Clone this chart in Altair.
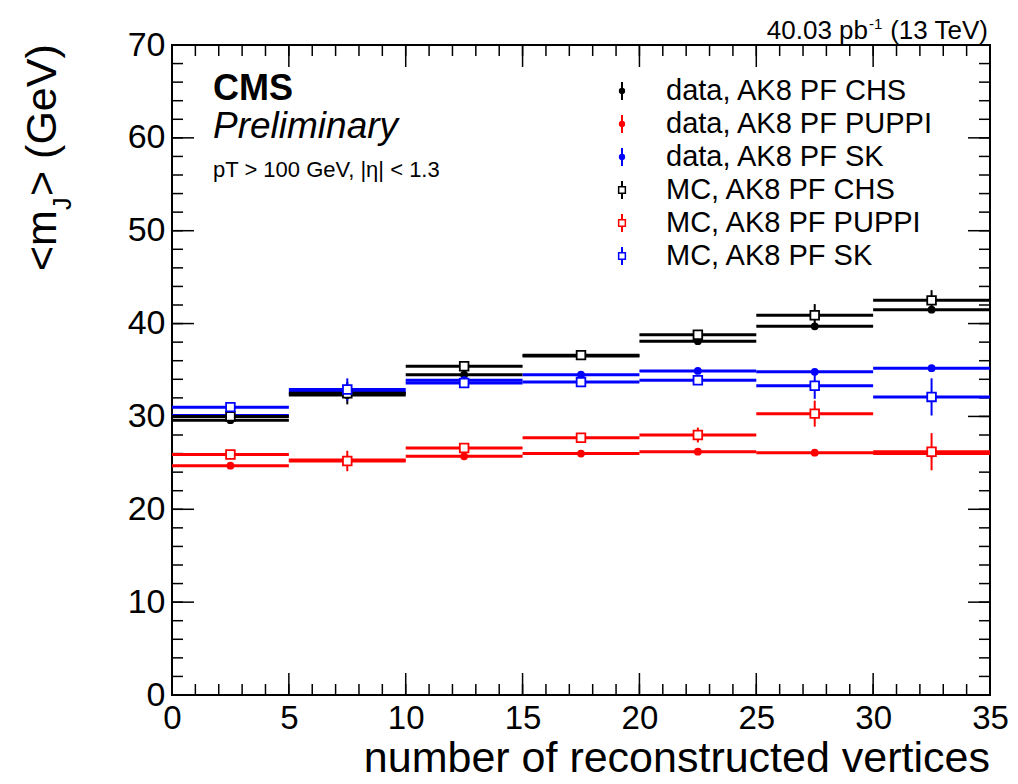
import altair as alt
import pandas as pd
import numpy as np

FONT = "Liberation Sans"

# ---- data -------------------------------------------------------------
bin_low = [0, 5, 10, 15, 20, 25, 30]
bin_high = [5, 10, 15, 20, 25, 30, 35]

series_names = ["data, AK8 PF CHS", "data, AK8 PF PUPPI", "data, AK8 PF SK",
                "MC, AK8 PF CHS", "MC, AK8 PF PUPPI", "MC, AK8 PF SK"]
series_kind = ["data", "data", "data", "MC", "MC", "MC"]
series_colors = ["#000000", "#ff0000", "#0000ff", "#000000", "#ff0000", "#0000ff"]

data_chs = [29.6, 32.3, 34.5, 36.5, 38.1, 39.7, 41.5]
data_puppi = [24.7, 25.3, 25.7, 26.0, 26.2, 26.1, 26.0]
data_sk = [30.1, 32.6, 33.9, 34.5, 34.9, 34.8, 35.2]
mc_chs = [30.0, 32.5, 35.4, 36.6, 38.8, 40.9, 42.5]
mc_puppi = [25.9, 25.2, 26.6, 27.7, 28.0, 30.3, 26.2]
mc_sk = [31.0, 32.9, 33.6, 33.7, 33.9, 33.3, 32.1]

data_chs_err = [0.1, 0.2, 0.1, 0.1, 0.15, 0.2, 0.3]
data_puppi_err = [0.1, 0.2, 0.1, 0.1, 0.15, 0.2, 0.3]
data_sk_err = [0.1, 0.2, 0.1, 0.1, 0.15, 0.2, 0.3]
mc_chs_err = [0.3, 1.2, 0.3, 0.2, 0.4, 1.2, 1.1]
mc_puppi_err = [0.3, 1.1, 0.3, 0.3, 0.8, 1.4, 2.0]
mc_sk_err = [0.3, 1.2, 0.3, 0.3, 0.4, 1.4, 2.0]

series_values = [data_chs, data_puppi, data_sk, mc_chs, mc_puppi, mc_sk]
series_errors = [data_chs_err, data_puppi_err, data_sk_err, mc_chs_err, mc_puppi_err, mc_sk_err]

x_major = [0, 5, 10, 15, 20, 25, 30, 35]
x_minor = list(range(0, 36))
y_major = [0, 10, 20, 30, 40, 50, 60, 70]
y_minor = list(range(0, 71, 2))

rows = []
for name, kind, vals, errs in zip(series_names, series_kind, series_values, series_errors):
    for lo, hi, v, e in zip(bin_low, bin_high, vals, errs):
        rows.append(dict(series=name, kind=kind, lo=lo, hi=hi, mid=(lo + hi) / 2,
                         val=v, elo=v - e, ehi=v + e))
df = pd.DataFrame(rows)

# ---- layout -----------------------------------------------------------
W, H = 818, 650
MAJ, MIN = 22, 11

xs = alt.Scale(domain=[0, 35], nice=False, zero=False)
ys = alt.Scale(domain=[0, 70], nice=False, zero=False)
x_axis = alt.Axis(values=x_major, title=None, ticks=False, domain=False, grid=False,
                  labelFontSize=33, labelPadding=7, labelFlush=False, format="d",
                  labelFont=FONT, labelColor="black")
y_axis = alt.Axis(values=y_major, title=None, ticks=False, domain=False, grid=False,
                  labelFontSize=34, labelPadding=7, labelFlush=False, format="d",
                  labelFont=FONT, labelColor="black")
color = alt.Color("series:N", scale=alt.Scale(domain=series_names, range=series_colors), legend=None)
stroke = alt.Stroke("series:N", scale=alt.Scale(domain=series_names, range=series_colors), legend=None)

base = alt.Chart(df)

hbars = base.mark_rule(strokeWidth=3).encode(
    x=alt.X("lo:Q", scale=xs, axis=x_axis), x2="hi:Q",
    y=alt.Y("val:Q", scale=ys, axis=y_axis), color=color)
vbars = base.mark_rule(strokeWidth=2).encode(
    x=alt.X("mid:Q", scale=xs, axis=x_axis),
    y=alt.Y("elo:Q", scale=ys, axis=y_axis), y2="ehi:Q", color=color)
dpts = base.transform_filter(alt.datum.kind == "data").mark_point(
    shape="circle", filled=True, size=60, opacity=1).encode(
    x=alt.X("mid:Q", scale=xs, axis=x_axis), y=alt.Y("val:Q", scale=ys, axis=y_axis), color=color)
mpts = base.transform_filter(alt.datum.kind == "MC").mark_point(
    shape="square", filled=True, fill="white", size=75, strokeWidth=1.8, opacity=1).encode(
    x=alt.X("mid:Q", scale=xs, axis=x_axis), y=alt.Y("val:Q", scale=ys, axis=y_axis), stroke=stroke)

# ticks on all four sides (inward, ROOT-style)
def xticks(vals, length):
    d = alt.Chart(pd.DataFrame({"t": vals}))
    bot = d.mark_rule(color="black", strokeWidth=1.5).encode(
        x=alt.X("t:Q", scale=xs, axis=x_axis), y=alt.value(H), y2=alt.value(H - length))
    top = d.mark_rule(color="black", strokeWidth=1.5).encode(
        x=alt.X("t:Q", scale=xs, axis=x_axis), y=alt.value(0), y2=alt.value(length))
    return [bot, top]

def yticks(vals, length):
    d = alt.Chart(pd.DataFrame({"t": vals}))
    left = d.mark_rule(color="black", strokeWidth=1.5).encode(
        y=alt.Y("t:Q", scale=ys, axis=y_axis), x=alt.value(0), x2=alt.value(length))
    right = d.mark_rule(color="black", strokeWidth=1.5).encode(
        y=alt.Y("t:Q", scale=ys, axis=y_axis), x=alt.value(W), x2=alt.value(W - length))
    return [left, right]

tick_layers = xticks(x_major, MAJ) + xticks(x_minor, MIN) + yticks(y_major, MAJ) + yticks(y_minor, MIN)

# legend (drawn manually, ROOT style)
leg_df = pd.DataFrame({"series": series_names, "kind": series_kind, "row": list(range(6))})
leg = alt.Chart(leg_df).transform_calculate(
    ly="46 + datum.row * 33", ly1="datum.ly - 9", ly2="datum.ly + 9")
leg_err = leg.mark_rule(strokeWidth=2).encode(
    x=alt.value(450), y=alt.Y("ly1:Q", scale=None), y2="ly2:Q", color=color)
leg_dpt = leg.transform_filter(alt.datum.kind == "data").mark_point(
    shape="circle", filled=True, size=40, opacity=1).encode(
    x=alt.value(450), y=alt.Y("ly:Q", scale=None), color=color)
leg_mpt = leg.transform_filter(alt.datum.kind == "MC").mark_point(
    shape="square", filled=True, fill="white", size=45, strokeWidth=1.5, opacity=1).encode(
    x=alt.value(450), y=alt.Y("ly:Q", scale=None), stroke=stroke)
leg_txt = leg.mark_text(align="left", baseline="middle", fontSize=29, font=FONT, color="black").encode(
    x=alt.value(494), y=alt.Y("ly:Q", scale=None), text="series:N")

def label(text, x, y, **kw):
    opts = dict(font=FONT, color="black", align="left", baseline="alphabetic")
    opts.update(kw)
    return alt.Chart(pd.DataFrame({"t": [text]})).mark_text(**opts).encode(
        x=alt.value(x), y=alt.value(y), text="t:N")

texts = [
    label("CMS", 41, 55, fontSize=36, fontWeight="bold"),
    label("Preliminary", 41, 93, fontSize=37, fontStyle="italic"),
    label("pT > 100 GeV, |η| < 1.3", 41, 132, fontSize=22),
    label("40.03 pb", 696, -6, fontSize=26, align="right"),
    label("-1", 697, -16, fontSize=15),
    label("(13 TeV)", 816, -6, fontSize=26, align="right"),
    label("number of reconstructed vertices", W, 727, fontSize=43, align="right"),
    label("<m", -116, 226, fontSize=43, angle=270),
    label("J", -101, 165, fontSize=25, angle=270),
    label("> (GeV)", -116, 151, fontSize=43, angle=270),
]

chart = alt.layer(
    *tick_layers, hbars, vbars, dpts, mpts, leg_err, leg_dpt, leg_mpt, leg_txt, *texts
).properties(
    width=W, height=H,
    padding={"left": 172, "top": 45, "right": 28, "bottom": 89},
    autosize=alt.AutoSizeParams(type="none"),
    background="white",
).configure_view(stroke="black", strokeWidth=2)

chart.save("out.html", embed_options={"renderer": "svg", "actions": False})
